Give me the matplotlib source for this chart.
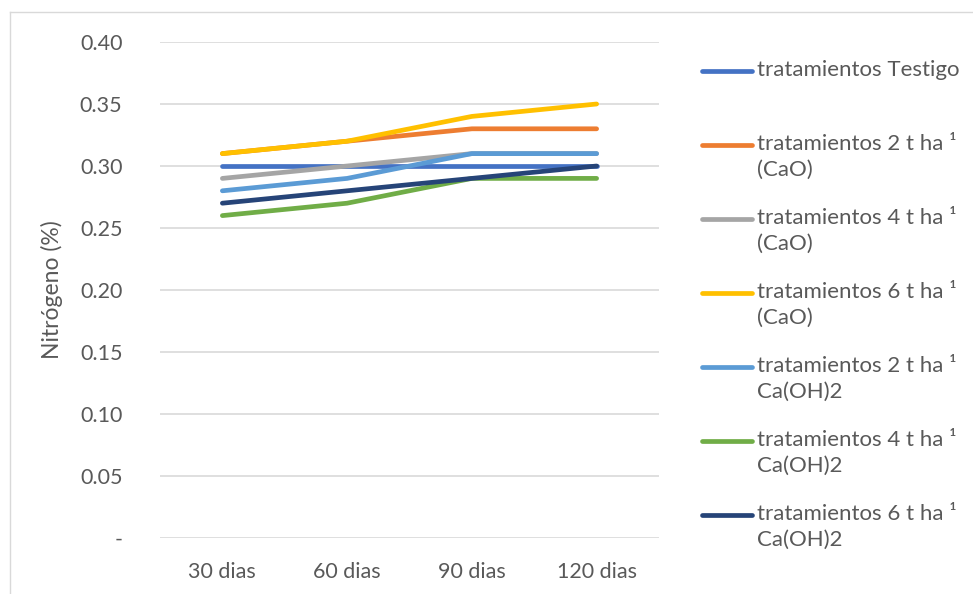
import matplotlib
matplotlib.use("Agg")
import matplotlib.pyplot as plt
from matplotlib.lines import Line2D

plt.rcParams['font.family'] = ['Lato', 'DejaVu Sans']

categorias = ["30 dias", "60 dias", "90 dias", "120 dias"]

series = [
    "tratamientos Testigo",
    "tratamientos 2 t ha ¹\n(CaO)",
    "tratamientos 4 t ha ¹\n(CaO)",
    "tratamientos 6 t ha ¹\n(CaO)",
    "tratamientos 2 t ha ¹\nCa(OH)2",
    "tratamientos 4 t ha ¹\nCa(OH)2",
    "tratamientos 6 t ha ¹\nCa(OH)2",
]

testigo = [0.30, 0.30, 0.30, 0.30]
cao_2 = [0.31, 0.32, 0.33, 0.33]
cao_4 = [0.29, 0.30, 0.31, 0.31]
cao_6 = [0.31, 0.32, 0.34, 0.35]
caoh2_2 = [0.28, 0.29, 0.31, 0.31]
caoh2_4 = [0.26, 0.27, 0.29, 0.29]
caoh2_6 = [0.27, 0.28, 0.29, 0.30]

valores = [testigo, cao_2, cao_4, cao_6, caoh2_2, caoh2_4, caoh2_6]
colores = ["#4472C4", "#ED7D31", "#A5A5A5", "#FFC000", "#5B9BD5", "#70AD47", "#264478"]

W, H = 973, 594
texto = "#595959"
grid = "#D9D9D9"

fig = plt.figure(figsize=(W / 100, H / 100), dpi=100)
ax = fig.add_axes([160 / W, 1 - 538 / H, 499 / W, 496 / H])

x = list(range(len(categorias)))
for vals, color in zip(valores, colores):
    ax.plot(x, vals, color=color, linewidth=3.4, solid_capstyle='round',
            solid_joinstyle='round', zorder=3)

ax.set_xlim(-0.5, len(categorias) - 0.5)
ax.set_ylim(0, 0.40)
yticks = [i * 0.05 for i in range(9)]
ax.set_yticks(yticks)
ax.set_yticklabels(["-"] + [f"{v:.2f}" for v in yticks[1:]])
ax.set_xticks(x)
ax.set_xticklabels(categorias)
ax.grid(axis='y', color=grid, linewidth=1.2, zorder=0)
for s in ax.spines.values():
    s.set_visible(False)
ax.tick_params(axis='both', length=0, colors=texto, labelsize=15.5)
ax.tick_params(axis='y', pad=27)
ax.tick_params(axis='x', pad=17)
ax.set_ylabel("Nitrógeno (%)", color=texto, fontsize=16.5, labelpad=12)

# leyenda dibujada a mano a la derecha
y0 = 71
paso = 74
for i, (nombre, color) in enumerate(zip(series, colores)):
    yy = 1 - (y0 + i * paso) / H
    fig.add_artist(Line2D([702 / W, 752 / W], [yy, yy], color=color, linewidth=3.4,
                          solid_capstyle='round', transform=fig.transFigure))
    fig.text(757 / W, yy + 11 / H, nombre, color=texto, fontsize=16,
             va='top', ha='left', linespacing=1.35)

# marco del área del gráfico
fig.add_artist(Line2D([10 / W, 10 / W], [0, 1 - 12 / H], color=grid, linewidth=1,
                      transform=fig.transFigure))
fig.add_artist(Line2D([10 / W, 1], [1 - 12 / H, 1 - 12 / H], color=grid, linewidth=1,
                      transform=fig.transFigure))

fig.savefig("out.png", dpi=100)
